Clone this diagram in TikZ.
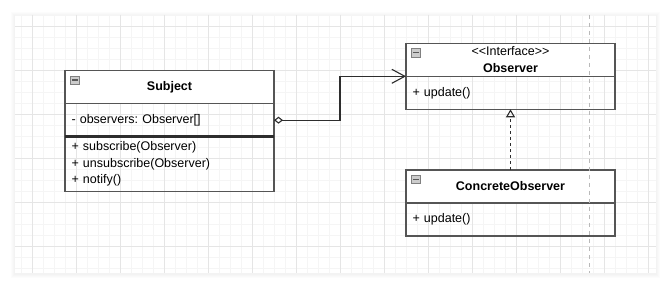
\documentclass[tikz,border=0pt]{standalone}
\usepackage{fontspec}
\setmainfont{Liberation Sans}
\frenchspacing
\usetikzlibrary{positioning,arrows.meta,calc}
\definecolor{boxline}{RGB}{85,85,85}
\definecolor{wire}{RGB}{45,45,45}
\definecolor{gridminor}{RGB}{245,245,245}
\definecolor{gridmajor}{RGB}{229,229,229}
\begin{document}
\begin{tikzpicture}[x=1pt, y=-1pt,
  classhead/.style={draw=boxline, fill=white, line width=1.5pt, outer sep=0pt, minimum width=209pt, minimum height=33pt, inner sep=0pt, align=center, font=\fontsize{12.5}{17}\selectfont\bfseries},
  members/.style={draw=boxline, line width=1.5pt, outer sep=0pt, text width=196pt, inner xsep=6.5pt, inner ysep=0pt, minimum height=33pt, align=left, font=\fontsize{12.5}{16.5}\selectfont},
  icon/.style={draw=gray, fill=gray!40, line width=.6pt, minimum width=9pt, minimum height=8.5pt, inner sep=0pt,
    path picture={\draw[line width=1.4pt, black!65] ([xshift=-2.6pt]path picture bounding box.center) -- ([xshift=2.6pt]path picture bounding box.center);}},
  wirestyle/.style={wire, line width=1.1pt}]
  \useasboundingbox (0,0) rectangle (671,288);
  % panel with soft shadow
  \foreach \s in {1,...,4}
    \fill[black, opacity=0.012] (15-\s,15-\s+1) rectangle (656+\s,273+\s+1);
  \fill[white] (15,15) rectangle (656,273);
  \begin{scope}
    \clip (15,15) rectangle (656,273);
    \foreach \x in {21,32,...,656} \draw[gridminor, line width=.8pt] (\x,15) -- (\x,273);
    \foreach \y in {15,26,...,273} \draw[gridminor, line width=.8pt] (15,\y) -- (656,\y);
    \foreach \x in {32,76,...,648} \draw[gridmajor, line width=.8pt] (\x,15) -- (\x,273);
    \foreach \y in {26,70,...,246} \draw[gridmajor, line width=.8pt] (15,\y) -- (656,\y);
  \end{scope}

  % Subject
  \node[classhead] (subjhead) at (169.5,87.2) {Subject};
  \node[members, below=0pt of subjhead] (subjattr) {- observers: Observer[]};
  \node[members, below=0pt of subjattr, minimum height=55pt] (subjmeth) {+ subscribe(Observer)\\+ unsubscribe(Observer)\\+ notify()};
  \draw[wire, line width=2.4pt] (subjmeth.north west) -- (subjmeth.north east);

  % Observer
  \node[classhead] (obshead) at (510.5,59.8) {{\mdseries <\kern0pt<Interface>\kern0pt>}\\Observer};
  \node[members, below=0pt of obshead] (obsmeth) {+ update()};

  % ConcreteObserver
  \node[classhead] (conhead) at (510.5,186.5) {ConcreteObserver};
  \node[members, below=0pt of conhead] (conmeth) {+ update()};

  % collapse icons
  \foreach \c in {subjhead,obshead,conhead}
    \node[icon] at ($(\c.north west)+(10,9.5)$) {};

  % relations
  \draw[wirestyle, {Diamond[open, length=9pt, width=7pt]}-{Straight Barb[length=13pt, width=14pt]}]
    (subjattr.east) -- ++(66,0) |- (obshead.south west);
  \draw[wirestyle, dash pattern=on 3pt off 3pt, -{Triangle[open, length=8pt, width=9pt]}]
    (conhead.north) -- (obsmeth.south);

  % page break
  \draw[gray!55, line width=.8pt, dash pattern=on 4pt off 4pt] (589,15) -- (589,273);
\end{tikzpicture}
\end{document}
